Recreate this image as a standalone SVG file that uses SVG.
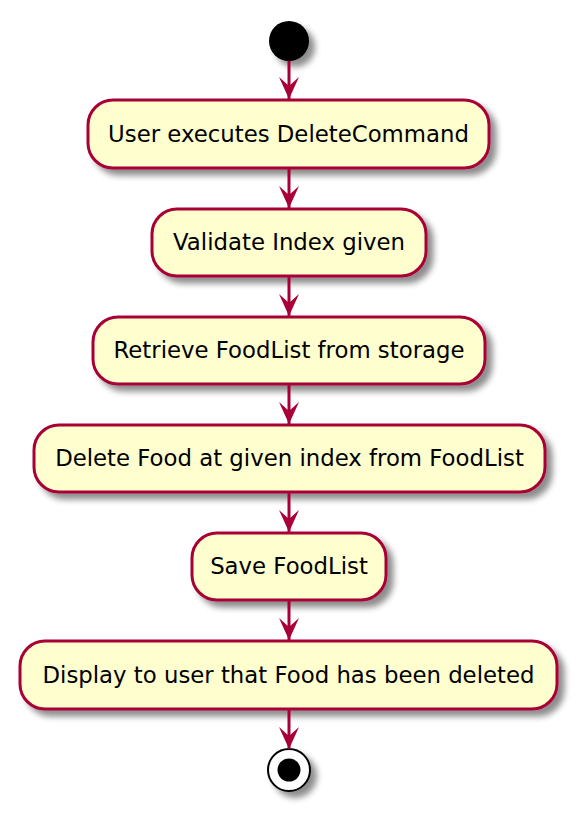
<svg xmlns="http://www.w3.org/2000/svg" width="578" height="813" viewBox="0 0 578 813">
<defs>
<filter id="sh" x="-20%" y="-30%" width="150%" height="180%">
<feGaussianBlur in="SourceAlpha" stdDeviation="3"/>
<feOffset dx="6" dy="6" result="b"/>
<feComponentTransfer><feFuncA type="linear" slope="0.45"/></feComponentTransfer>
<feMerge><feMergeNode/><feMergeNode in="SourceGraphic"/></feMerge>
</filter>
<marker id="ah" viewBox="0 0 22 20" refX="22" refY="10" markerWidth="22" markerHeight="20" markerUnits="userSpaceOnUse" orient="auto">
<polygon points="0,0 22,10 0,20 9,10" fill="#A80036"/>
</marker>
</defs>
<style>
.box{fill:#FEFECE;stroke:#A80036;stroke-width:3;filter:url(#sh)}
.lbl{font-family:"DejaVu Sans",Verdana,sans-serif;font-size:22.8px;fill:#000;text-anchor:middle}
.edge{stroke:#A80036;stroke-width:3;fill:none}
</style>
<rect width="578" height="813" fill="#FFFFFF"/>
<g id="start"><circle cx="289" cy="41" r="20" fill="#000" filter="url(#sh)"/></g>
<g id="n1"><rect class="box" x="88" y="100" width="401" height="68" rx="25"/><text class="lbl" x="288.5" y="142">User executes DeleteCommand</text></g>
<g id="n2"><rect class="box" x="152" y="209" width="274" height="67" rx="25"/><text class="lbl" x="289" y="250">Validate Index given</text></g>
<g id="n3"><rect class="box" x="93" y="317" width="392" height="67" rx="25"/><text class="lbl" x="289" y="358">Retrieve FoodList from storage</text></g>
<g id="n4"><rect class="box" x="34" y="425" width="511" height="67" rx="25"/><text class="lbl" x="289.5" y="466">Delete Food at given index from FoodList</text></g>
<g id="n5"><rect class="box" x="192" y="533" width="194" height="67" rx="25"/><text class="lbl" x="289" y="574">Save FoodList</text></g>
<g id="n6"><rect class="box" x="20" y="641" width="537" height="68" rx="25"/><text class="lbl" x="288.5" y="683">Display to user that Food has been deleted</text></g>
<g id="end"><circle cx="289" cy="770" r="21" fill="#FFF" stroke="#000" stroke-width="2" filter="url(#sh)"/><circle cx="289" cy="770" r="11.5" fill="#000"/></g>
<g id="connectors">
<line class="edge" x1="289" y1="61" x2="289" y2="99" marker-end="url(#ah)"/>
<line class="edge" x1="289" y1="168" x2="289" y2="208" marker-end="url(#ah)"/>
<line class="edge" x1="289" y1="276" x2="289" y2="316" marker-end="url(#ah)"/>
<line class="edge" x1="289" y1="384" x2="289" y2="424" marker-end="url(#ah)"/>
<line class="edge" x1="289" y1="492" x2="289" y2="532" marker-end="url(#ah)"/>
<line class="edge" x1="289" y1="600" x2="289" y2="640" marker-end="url(#ah)"/>
<line class="edge" x1="289" y1="709" x2="289" y2="749" marker-end="url(#ah)"/>
</g>
</svg>
